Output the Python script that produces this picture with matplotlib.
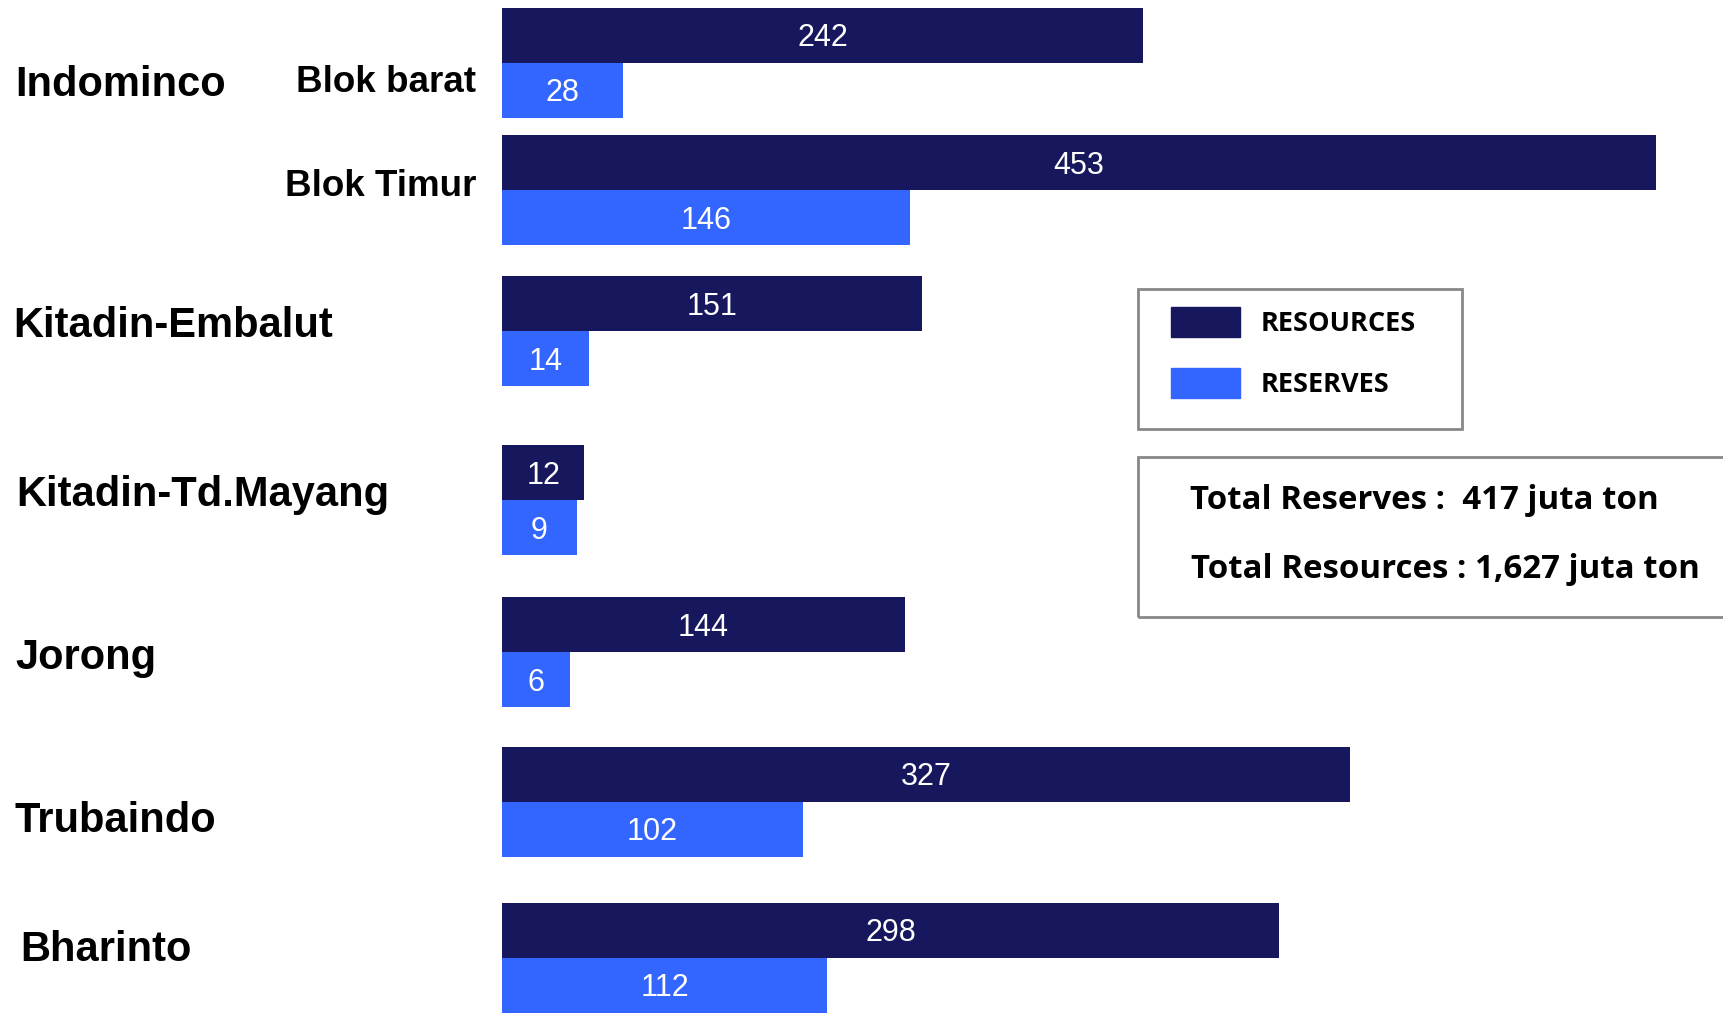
import matplotlib
matplotlib.use("Agg")
import matplotlib.pyplot as plt
from matplotlib.patches import Rectangle, Patch

# data (juta ton)
row_names = ["Indominco Blok barat", "Indominco Blok Timur", "Kitadin-Embalut",
             "Kitadin-Td.Mayang", "Jorong", "Trubaindo", "Bharinto"]
companies = ["Indominco", "Kitadin-Embalut", "Kitadin-Td.Mayang", "Jorong",
             "Trubaindo", "Bharinto"]
blocks = ["Blok barat", "Blok Timur"]
resources = [242, 453, 151, 12, 144, 327, 298]
reserves = [28, 146, 14, 9, 6, 102, 112]
series_names = ["RESOURCES", "RESERVES"]
total_reserves = "417"
total_resources = "1,627"

# layout (pixels of the 1724x1013 canvas)
W, H = 1724, 1013
row_y = [62.7, 190.2, 331, 500, 652, 801.5, 957.6]
company_y = [84.5, 326, 494.6, 658, 821, 950]
company_x = [15, 13, 16.5, 15, 15, 20]
block_y = [82, 187]
bar_h = 55
px_per_unit = 2.43
bar_x0 = 502
# bars start a little left of zero so the small values keep their labels inside
stub = 53 / px_per_unit

dark = "#17175e"
blue = "#3366ff"
frame_col = "#888888"

fig = plt.figure(figsize=(W / 100, H / 100), dpi=100)
ax = fig.add_axes([0, 0, 1, 1])
ax.set_xlim(-bar_x0 / px_per_unit - stub, (W - bar_x0) / px_per_unit - stub)
ax.set_ylim(H, 0)
ax.axis("off")

y_res = [y - bar_h / 2 for y in row_y]
y_rsv = [y + bar_h / 2 for y in row_y]
w_res = [v + stub for v in resources]
w_rsv = [v + stub for v in reserves]
ax.barh(y_res, w_res, left=-stub, height=bar_h, color=dark)
ax.barh(y_rsv, w_rsv, left=-stub, height=bar_h, color=blue)

num_font = dict(family="Liberation Sans", fontsize=22, color="white",
                ha="center", va="center")
for ys, vals in ((y_res, resources), (y_rsv, reserves)):
    for y, v in zip(ys, vals):
        ax.text((v - stub) / 2, y + 3, str(v), **num_font)


def fx(x):
    return x / W


def fy(y):
    return 1 - y / H


for name, x, y in zip(companies, company_x, company_y):
    fig.text(fx(x), fy(y), name, family="Liberation Sans", fontweight="bold",
             fontsize=30, ha="left", va="center")
for name, y in zip(blocks, block_y):
    fig.text(fx(476), fy(y), name, family="Liberation Sans", fontweight="bold",
             fontsize=26.5, ha="right", va="center")

# legend: library legend without frame, plus a drawn box
leg = ax.legend(handles=[Patch(color=dark), Patch(color=blue)], labels=series_names,
                loc="upper left", bbox_to_anchor=(fx(1171), fy(307)),
                bbox_transform=fig.transFigure, borderaxespad=0, borderpad=0,
                frameon=False,
                prop=dict(family="Open Sans", weight="bold", size=19.5),
                handlelength=2.55, handleheight=1.33, handletextpad=0.75,
                labelspacing=1.15)
fig.patches.append(Rectangle((fx(1138), fy(429)), fx(1462 - 1138), (429 - 289) / H,
                             transform=fig.transFigure, fill=False,
                             edgecolor=frame_col, linewidth=2))

fig.patches.append(Rectangle((fx(1138), fy(617)), fx(620), (617 - 457) / H,
                             transform=fig.transFigure, fill=False,
                             edgecolor=frame_col, linewidth=2))
tot_font = dict(family="Open Sans", fontweight="bold", fontsize=23.8,
                ha="left", va="center")
fig.text(fx(1190), fy(500), "Total Reserves :  " + total_reserves + " juta ton", **tot_font)
fig.text(fx(1191), fy(569.5), "Total Resources : " + total_resources + " juta ton", **tot_font)

fig.savefig("out.png", dpi=100, facecolor="white")
